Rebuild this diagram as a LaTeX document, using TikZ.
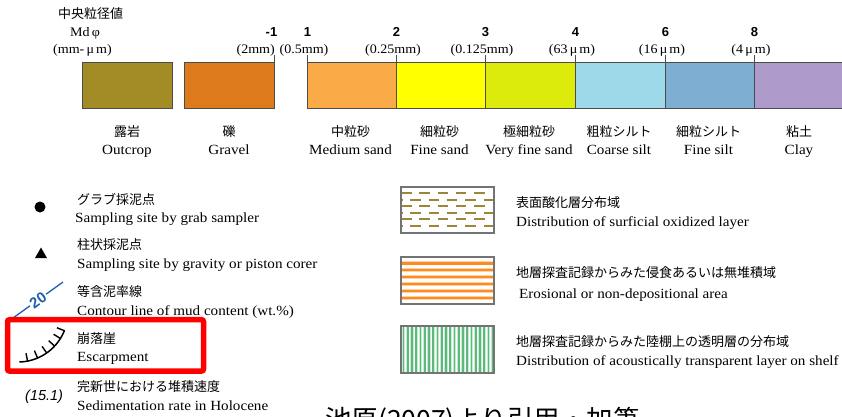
\documentclass[tikz,border=0pt]{standalone}
\usepackage{fontspec}
\setmainfont{Liberation Serif}[FakeStretch=1.08]
\newfontfamily\jp{Noto Sans CJK JP}
\newfontfamily\sansf{Liberation Sans}
\definecolor{cOut}{HTML}{A38B26}
\definecolor{cGrav}{HTML}{DD7B1C}
\definecolor{cMed}{HTML}{FBAA48}
\definecolor{cFine}{HTML}{FFFF00}
\definecolor{cVfine}{HTML}{DCEB0C}
\definecolor{cCsilt}{HTML}{9DD9E9}
\definecolor{cFsilt}{HTML}{7EAFD3}
\definecolor{cClay}{HTML}{AF9BCB}
\definecolor{cBlue}{HTML}{1F5FAF}
\definecolor{cDash}{HTML}{9C8638}
\definecolor{cOr}{HTML}{FF8A1E}
\definecolor{cOrL}{HTML}{FFD2A8}
\definecolor{cGreen}{HTML}{5CB97A}
\definecolor{cGreenL}{HTML}{C8EBD3}
\begin{document}
\begin{tikzpicture}[x=1pt,y=-1pt,
  jp/.style={font=\jp\fontsize{13}{13}\selectfont, inner sep=0pt, anchor=base west},
  en/.style={font=\fontsize{14}{14}\selectfont, inner sep=0pt, anchor=base west},
  num/.style={font=\sansf\bfseries\fontsize{13}{13}\selectfont, inner sep=0pt, anchor=base},
  pl/.style={font=\fontsize{13}{13}\selectfont, inner sep=0pt, anchor=base},
  outl/.style={draw=black!70, line width=1pt},
  hbox/.style={draw=black!55, line width=1.5pt}]
\useasboundingbox (0,0) rectangle (842,416);
\fill[white] (0,0) rectangle (842,416);

% ---------- header ----------
\node[jp] (hdr) at (58,18) {中央粒径値};
\node[pl,anchor=base west] (md) at (70,36) {Md\,φ};
\node[pl,anchor=base west] (mmum) at (53,53) {(mm-\,μ\,m)};

% ---------- outcrop & gravel ----------
\draw[outl, fill=cOut] (82,62) rectangle (172,108);
\draw[outl, fill=cGrav] (184,62) rectangle (274,108);
\draw[outl] (274,55) -- (274,62);
\node[num, anchor=base east] (nm1) at (277.5,36) {-1};
\node[pl, anchor=base east] (p2mm) at (275,53) {(2mm)};
\node[jp, anchor=base] (jout) at (127,136.5) {露岩};
\node[en, anchor=base] (eout) at (127,154) {Outcrop};
\node[jp, anchor=base] (jgrav) at (229,136.5) {礫};
\node[en, anchor=base] (egrav) at (229,154) {Gravel};

% ---------- grain-size bar ----------
\foreach \xa/\xb/\col/\j/\e/\n in {
  307/396/cMed/中粒砂/Medium sand/med,
  396/485/cFine/細粒砂/Fine sand/fine,
  485/575/cVfine/極細粒砂/Very fine sand/vfine,
  575/665/cCsilt/粗粒シルト/Coarse silt/csilt,
  665/754/cFsilt/細粒シルト/Fine silt/fsilt,
  754/846/cClay/粘土/Clay/clay}{
  \fill[\col] (\xa,62) rectangle (\xb,108);
  \node[jp, anchor=base] (j\n) at ({(\xa+\xb)/2-1},136.5) {\j};
  \node[en, anchor=base] (e\n) at ({(\xa+\xb)/2-1},154) {\e};
}
\draw[outl] (307,62) rectangle (846,108);
\foreach \t/\v/\p/\n in {307/1/(0.5mm)/a, 396/2/(0.25mm)/b, 485/3/(0.125mm)/c,
  575/4/(63\,μ\,m)/d, 665/6/(16\,μ\,m)/e, 754/8/(4\,μ\,m)/f}{
  \draw[outl] (\t,55) -- (\t,108);
  \node[num] (n\n) at ({\t+0.5},36) {\v};
  \node[pl] (p\n) at ({\t-3},53) {\p};
}

% ---------- left legend ----------
\fill (40,207) circle (5.5);
\node[jp] (jgrab) at (77,204) {グラブ採泥点};
\node[en] (egrab) at (75,222.5) {Sampling site by grab sampler};

\fill (41,247.5) -- (35,258) -- (47,258) -- cycle;
\node[jp] (jcore) at (77,249) {柱状採泥点};
\node[en] (ecore) at (77,268) {Sampling site by gravity or piston corer};

\coordinate (ca) at (13,318);
\coordinate (cb) at (63,282);
\draw[cBlue, line width=1.3pt] (ca) -- node[sloped, fill=white, inner sep=1.5pt,
  font=\sansf\bfseries\fontsize{15}{15}\selectfont, text=cBlue] (c20) {20} (cb);
\node[jp] (jmud) at (77,296) {等含泥率線};
\node[en] (emud) at (77,315) {Contour line of mud content (wt.\%)};

\draw[line width=1.5pt, line cap=round]
  plot[domain=88:22, samples=40] ({18+50*cos(\x)},{312+50*sin(\x)});
\foreach \a in {79,67,55,43,32,22}
  \draw[line width=1.4pt] ({18+50*cos(\a)},{312+50*sin(\a)}) -- ({18+42*cos(\a)},{312+42*sin(\a)});
\node[jp] (jesc) at (77,343) {崩落崖};
\node[en] (eesc) at (77,361) {Escarpment};
\draw[red, line width=5.5pt, rounded corners=2pt] (7.5,319.7) rectangle (203.5,371);

\node[font=\sansf\itshape\fontsize{14.5}{14.5}\selectfont, inner sep=0pt, anchor=base west] (rate) at (25,400) {(15.1)};
\node[jp] (jsed) at (77,391.5) {完新世における堆積速度};
\node[en] (esed) at (77,410) {Sedimentation rate in Holocene};

% ---------- right legend ----------
\begin{scope}
  \clip (401,187) rectangle (494,233);
  \foreach \r in {0,...,5}{
    \pgfmathsetmacro{\yy}{193+\r*6.6}
    \pgfmathsetmacro{\ph}{mod(\r,2)*9}
    \draw[cDash, line width=1.9pt, dash pattern=on 10.5pt off 7.8pt, dash phase=\ph pt]
      (401,\yy) -- (496,\yy);
  }
\end{scope}
\draw[hbox] (401,187) rectangle (494,233);
\node[jp] (jox) at (516,207) {表面酸化層分布域};
\node[en] (eox) at (516,226.5) {Distribution of surficial oxidized layer};

\begin{scope}
  \clip (401,257) rectangle (494,304);
  \foreach \r in {0,...,5}{
    \pgfmathsetmacro{\yy}{263.3+\r*6.9}
    \draw[cOrL, line width=4.2pt] (401,\yy) -- (494,\yy);
    \draw[cOr, line width=2.4pt] (401,\yy) -- (494,\yy);
  }
\end{scope}
\draw[hbox] (401,257) rectangle (494,304);
\node[jp] (jer) at (516,277.5) {地層探査記録からみた侵食あるいは無堆積域};
\node[en] (eer) at (519,298) {Erosional or non-depositional area};

\begin{scope}
  \clip (401,326) rectangle (494,373);
  \fill[cGreenL] (401,326) rectangle (494,373);
  \foreach \k in {0,...,21}{
    \pgfmathsetmacro{\xx}{403.5+\k*4.25}
    \draw[white, line width=1.2pt] ({\xx+2.1},326) -- ({\xx+2.1},373);
    \draw[cGreen, line width=1.7pt] (\xx,326) -- (\xx,373);
  }
\end{scope}
\draw[hbox] (401,326) rectangle (494,373);
\node[jp] (jtr) at (516,346.5) {地層探査記録からみた陸棚上の透明層の分布域};
\node[en] (etr) at (516,365.5) {Distribution of acoustically transparent layer on shelf};

% ---------- bottom title (cut off at the lower edge, as in the reference) ----------
\node[font=\jp\fontsize{26.5}{26.5}\selectfont, inner sep=0pt, anchor=base west] (ttl) at (325,429) {池原(2007)より引用・加筆};
\end{tikzpicture}
\end{document}
